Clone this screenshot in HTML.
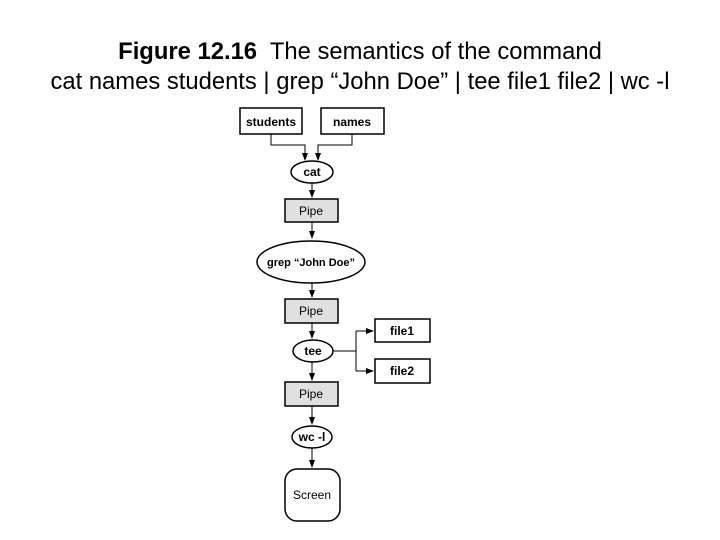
<!DOCTYPE html>
<html><head><style>
body{margin:0;width:720px;height:540px;background:#fff;overflow:hidden;font-family:"Liberation Sans",Arial,sans-serif}
.t{position:absolute;left:0;width:720px;text-align:center;font-size:23.8px;color:#000;line-height:28px}
</style></head><body>
<div class="t" style="top:38px"><b>Figure 12.16</b>&nbsp; The semantics of the command</div>
<div class="t" style="top:68px">cat names students | grep “John Doe” | tee file1 file2 | wc -l</div>
<svg width="720" height="540" style="position:absolute;left:0;top:0" font-family="Liberation Sans, sans-serif">
<defs><marker id="a" markerWidth="8" markerHeight="6" refX="7" refY="3" orient="auto" markerUnits="userSpaceOnUse"><path d="M0,0 L8,3 L0,6 z" fill="#000"/></marker></defs>
<g stroke="#000" stroke-width="1.5" fill="none">
<rect x="240" y="108" width="62" height="26" fill="#fff"/>
<rect x="321" y="108" width="63" height="26" fill="#fff"/>
<path d="M271,134 V145 H305 V160" marker-end="url(#a)" stroke-width="1"/>
<path d="M352,134 V145 H318 V160" marker-end="url(#a)" stroke-width="1"/>
<ellipse cx="312" cy="172" rx="21" ry="11" fill="#fff"/>
<path d="M312,183 V197" marker-end="url(#a)" stroke-width="1"/>
<rect x="285" y="199" width="53" height="23" fill="#e0e0e0"/>
<path d="M312,222 V238" marker-end="url(#a)" stroke-width="1"/>
<ellipse cx="311" cy="262" rx="54" ry="21" fill="#fff"/>
<path d="M312,283 V297" marker-end="url(#a)" stroke-width="1"/>
<rect x="285" y="299" width="53" height="24" fill="#e0e0e0"/>
<path d="M312,323 V338" marker-end="url(#a)" stroke-width="1"/>
<ellipse cx="313" cy="351" rx="20" ry="11" fill="#fff"/>
<path d="M333,351 H356 M356,331 V371" stroke-width="1"/>
<path d="M356,331 H373" marker-end="url(#a)" stroke-width="1"/>
<path d="M356,371 H373" marker-end="url(#a)" stroke-width="1"/>
<rect x="375" y="319" width="55" height="23" fill="#fff"/>
<rect x="375" y="359" width="55" height="24" fill="#fff"/>
<path d="M312,362 V380" marker-end="url(#a)" stroke-width="1"/>
<rect x="285" y="382" width="53" height="24" fill="#e0e0e0"/>
<path d="M312,406 V424" marker-end="url(#a)" stroke-width="1"/>
<ellipse cx="312" cy="437" rx="20" ry="11" fill="#fff"/>
<path d="M312,448 V467" marker-end="url(#a)" stroke-width="1"/>
<rect x="285" y="469" width="55" height="52" rx="12" fill="#fff"/>
</g>
<g font-size="12" text-anchor="middle" fill="#000">
<text x="271" y="126" font-weight="bold">students</text>
<text x="352" y="126" font-weight="bold">names</text>
<text x="312" y="176" font-weight="bold">cat</text>
<text x="311" y="215">Pipe</text>
<text x="311" y="266" font-weight="bold" font-size="11">grep “John Doe”</text>
<text x="311" y="315">Pipe</text>
<text x="313" y="355" font-weight="bold">tee</text>
<text x="402" y="335" font-weight="bold">file1</text>
<text x="402" y="375" font-weight="bold">file2</text>
<text x="311" y="398">Pipe</text>
<text x="312" y="441" font-weight="bold">wc -l</text>
<text x="312" y="499">Screen</text>
</g>
</svg>
</body></html>
